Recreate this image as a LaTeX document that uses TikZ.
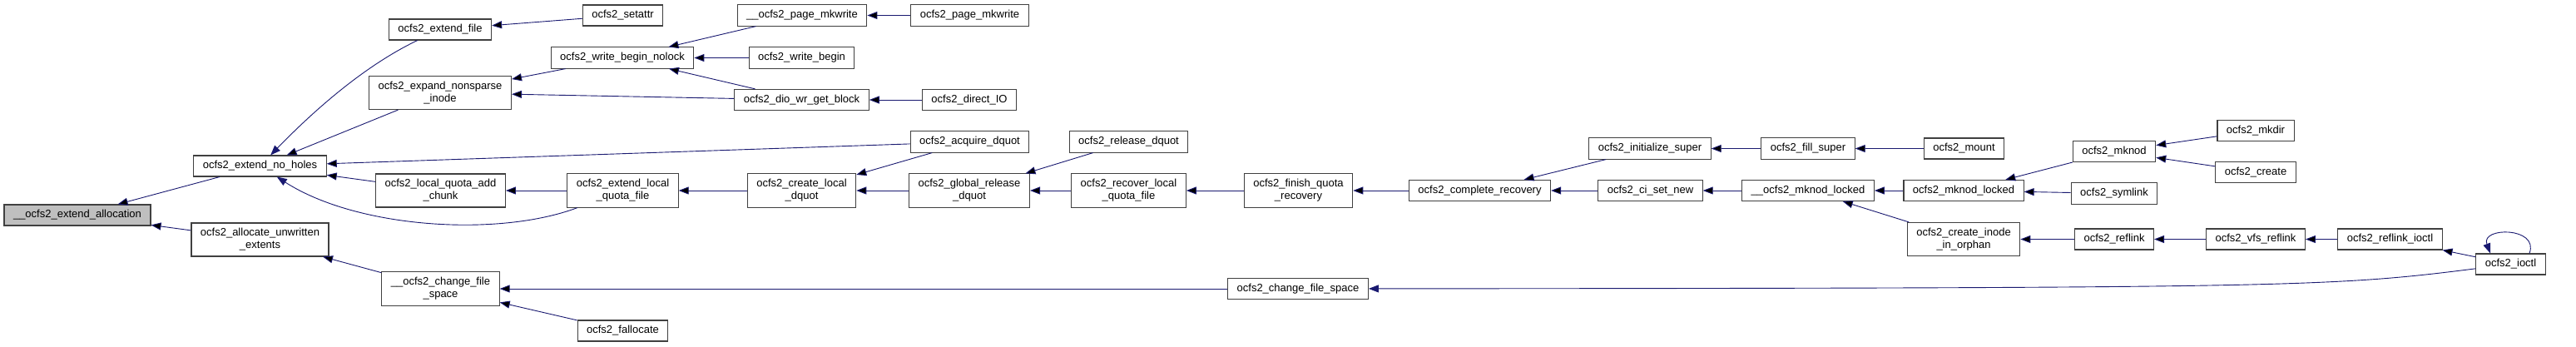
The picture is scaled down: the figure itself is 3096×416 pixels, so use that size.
\documentclass[tikz,border=0pt]{standalone}
\usepackage{fontspec}
\setmainfont{Liberation Sans}
\usetikzlibrary{positioning, arrows.meta}
\definecolor{edgeblue}{HTML}{191970}
\definecolor{boxline}{HTML}{404040}
\definecolor{rootfill}{HTML}{BFBFBF}

\begin{document}
\begin{tikzpicture}[x=1pt, y=-1pt, on grid,
    fn/.style={draw=boxline, line width=1.1pt, fill=white, inner xsep=11pt, inner ysep=6.5pt,
        minimum height=25pt, align=center, font=\fontsize{13}{15}\selectfont},
    root/.style={fn, fill=rootfill},
    call/.style={draw=edgeblue, line width=0.9pt, >={Triangle[length=12pt, width=9pt]}}]
    \useasboundingbox (0,0) rectangle (3096,416);

    \node[root] (alloc) at (93,258.5) {\_\_ocfs2\_extend\_allocation};
    \node[fn, above right=59pt and 219.5pt of alloc] (noholes) {ocfs2\_extend\_no\_holes};
    \node[fn, below right=29.5pt and 219.5pt of alloc] (unwritten) {ocfs2\_allocate\_unwritten\\\_extents};
    \node[fn, above right=164pt and 216.5pt of noholes] (extfile) {ocfs2\_extend\_file};
    \node[fn, above right=88pt and 216.5pt of noholes] (expand) {ocfs2\_expand\_nonsparse\\\_inode};
    \node[fn, below right=29.5pt and 217pt of noholes] (lqadd) {ocfs2\_local\_quota\_add\\\_chunk};
    \node[fn, below right=59pt and 217pt of unwritten] (chfsi) {\_\_ocfs2\_change\_file\\\_space};
    \node[fn, above right=17pt and 219.5pt of extfile] (setattr) {ocfs2\_setattr};
    \node[fn, above right=42pt and 219pt of expand] (wbnolock) {ocfs2\_write\_begin\_nolock};
    \node[fn, right=219pt of lqadd] (extlqf) {ocfs2\_extend\_local\\\_quota\_file};
    \node[fn, below right=50.5pt and 219pt of chfsi] (fallocate) {ocfs2\_fallocate};
    \node[fn, above right=51pt and 216pt of wbnolock] (pmkwi) {\_\_ocfs2\_page\_mkwrite};
    \node[fn, right=215.5pt of wbnolock] (wbegin) {ocfs2\_write\_begin};
    \node[fn, below right=50.5pt and 215.5pt of wbnolock] (diowr) {ocfs2\_dio\_wr\_get\_block};
    \node[fn, right=215pt of extlqf] (createlocal) {ocfs2\_create\_local\\\_dquot};
    \node[fn, right=201.5pt of pmkwi] (pmkw) {ocfs2\_page\_mkwrite};
    \node[fn, right=201.5pt of diowr] (directio) {ocfs2\_direct\_IO};
    \node[fn, above right=58.5pt and 202pt of createlocal] (acquire) {ocfs2\_acquire\_dquot};
    \node[fn, right=201.5pt of createlocal] (globalrel) {ocfs2\_global\_release\\\_dquot};
    \node[fn, above right=58.5pt and 191.5pt of globalrel] (releasedq) {ocfs2\_release\_dquot};
    \node[fn, right=191.5pt of globalrel] (recoverlocal) {ocfs2\_recover\_local\\\_quota\_file};
    \node[fn, right=204pt of recoverlocal] (finishq) {ocfs2\_finish\_quota\\\_recovery};
    \node[fn, right=1030.5pt of chfsi] (chfs) {ocfs2\_change\_file\_space};
    \node[fn, right=218pt of finishq] (complete) {ocfs2\_complete\_recovery};
    \node[fn, above right=50.5pt and 204.5pt of complete] (initsuper) {ocfs2\_initialize\_super};
    \node[fn, right=205pt of complete] (cisetnew) {ocfs2\_ci\_set\_new};
    \node[fn, right=190pt of initsuper] (fillsuper) {ocfs2\_fill\_super};
    \node[fn, right=187.5pt of fillsuper] (mount) {ocfs2\_mount};
    \node[fn, right=189.5pt of cisetnew] (mknodlockedi) {\_\_ocfs2\_mknod\_locked};
    \node[fn, right=187pt of mknodlockedi] (mknodlocked) {ocfs2\_mknod\_locked};
    \node[fn, below right=58.5pt and 187pt of mknodlockedi] (orphan) {ocfs2\_create\_inode\\\_in\_orphan};
    \node[fn, above right=47pt and 181pt of mknodlocked] (mknod) {ocfs2\_mknod};
    \node[fn, below right=3.5pt and 181pt of mknodlocked] (symlink) {ocfs2\_symlink};
    \node[fn, right=181pt of orphan] (reflink) {ocfs2\_reflink};
    \node[fn, above right=25pt and 170pt of mknod] (mkdir) {ocfs2\_mkdir};
    \node[fn, below right=25pt and 170pt of mknod] (create) {ocfs2\_create};
    \node[fn, right=170pt of reflink] (vfsreflink) {ocfs2\_vfs\_reflink};
    \node[fn, right=161.5pt of vfsreflink] (reflinkioctl) {ocfs2\_reflink\_ioctl};
    \node[fn, below right=30pt and 145pt of reflinkioctl] (ioctl) {ocfs2\_ioctl};

    \path[call, <-]
        (alloc) edge (noholes)
        (alloc) edge (unwritten)
        (noholes) edge (expand)
        (noholes) edge (acquire)
        (noholes) edge (lqadd)
        (unwritten) edge (chfsi)
        (extfile) edge (setattr)
        (expand) edge (wbnolock)
        (expand) edge (diowr)
        (lqadd) edge (extlqf)
        (chfsi) edge (chfs)
        (chfsi) edge (fallocate)
        (wbnolock) edge (pmkwi)
        (wbnolock) edge (wbegin)
        (wbnolock) edge (diowr)
        (extlqf) edge (createlocal)
        (pmkwi) edge (pmkw)
        (diowr) edge (directio)
        (createlocal) edge (acquire)
        (createlocal) edge (globalrel)
        (globalrel) edge (releasedq)
        (globalrel) edge (recoverlocal)
        (recoverlocal) edge (finishq)
        (finishq) edge (complete)
        (complete) edge (initsuper)
        (complete) edge (cisetnew)
        (initsuper) edge (fillsuper)
        (fillsuper) edge (mount)
        (cisetnew) edge (mknodlockedi)
        (mknodlockedi) edge (mknodlocked)
        (mknodlockedi) edge (orphan)
        (mknodlocked) edge (mknod)
        (mknodlocked) edge (symlink)
        (orphan) edge (reflink)
        (mknod) edge (mkdir)
        (mknod) edge (create)
        (reflink) edge (vfsreflink)
        (vfsreflink) edge (reflinkioctl)
        (reflinkioctl) edge (ioctl);

    % curved calls
    \draw[call, <-] (noholes) .. controls (380,130) and (440,78) .. (extfile);
    \draw[call, <-] (noholes) .. controls (430,275) and (600,285) .. (extlqf);
    \draw[call, <-] (chfs) .. controls (2760,346) and (2800,345) .. (ioctl);
    \draw[call, <-] ([xshift=-24.5pt]ioctl.north) .. controls +(-12,-32) and +(12,-32) .. ([xshift=22.5pt]ioctl.north);
\end{tikzpicture}
\end{document}
